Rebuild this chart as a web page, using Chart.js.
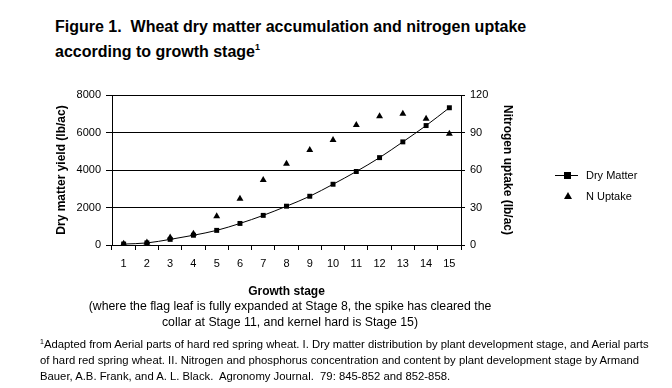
<!DOCTYPE html>
<html lang="en">
<head>
    <meta charset="UTF-8">
    <title>Wheat dry matter and nitrogen uptake</title>
    <script src="https://cdn.jsdelivr.net/npm/chart.js"></script>
    <style>
        body {
            margin: 0;
            width: 672px;
            height: 388px;
            background: white;
            font-family: Arial, "Liberation Sans", sans-serif;
            position: relative;
            overflow: hidden;
        }
        #chartBox {
            position: absolute;
            left: 0;
            top: 0;
            width: 672px;
            height: 388px;
        }
        .title {
            position: absolute;
            left: 55px;
            top: 14px;
            font-size: 16px;
            font-weight: bold;
            line-height: 25px;
        }
        .title sup {
            font-size: 9px;
            vertical-align: 7px;
            line-height: 0;
        }
        .subnote {
            position: absolute;
            left: 60px;
            width: 460px;
            top: 298px;
            text-align: center;
            font-size: 12.3px;
            line-height: 16px;
        }
        .footnote {
            position: absolute;
            left: 40px;
            top: 336px;
            font-size: 11.3px;
            line-height: 16px;
            white-space: nowrap;
        }
        .footnote sup {
            font-size: 7px;
            vertical-align: 4px;
            line-height: 0;
        }
        .legend {
            position: absolute;
            left: 555px;
            top: 167px;
            font-size: 11px;
        }
        .legend div {
            height: 21px;
            position: relative;
            padding-left: 31px;
            line-height: 16px;
        }
        .lineMark {
            position: absolute;
            left: 0;
            top: 8px;
            width: 23px;
            height: 1px;
            background: black;
        }
        .squareMark {
            position: absolute;
            left: 9px;
            top: 5px;
            width: 7px;
            height: 7px;
            background: black;
        }
        .triMark {
            position: absolute;
            left: 9px;
            top: 4px;
            width: 0;
            height: 0;
            border-left: 4px solid transparent;
            border-right: 4px solid transparent;
            border-bottom: 7px solid black;
        }
    </style>
</head>
<body>
    <div class="title">Figure 1.&nbsp; Wheat dry matter accumulation and nitrogen uptake<br>according to growth stage<sup>1</sup></div>
    <div id="chartBox"><canvas id="wheatChart"></canvas></div>
    <div class="subnote">(where the flag leaf is fully expanded at Stage 8, the spike has cleared the<br>collar at Stage 11, and kernel hard is Stage 15)</div>
    <div class="legend">
        <div><span class="lineMark"></span><span class="squareMark"></span>Dry Matter</div>
        <div><span class="triMark"></span>N Uptake</div>
    </div>
    <div class="footnote"><sup>1</sup>Adapted from Aerial parts of hard red spring wheat. I. Dry matter distribution by plant development stage, and Aerial parts<br>of hard red spring wheat. II. Nitrogen and phosphorus concentration and content by plant development stage by Armand<br>Bauer, A.B. Frank, and A. L. Black.&nbsp; Agronomy Journal.&nbsp; 79: 845-852 and 852-858.</div>

    <script>
        // values
        const stages = ['1', '2', '3', '4', '5', '6', '7', '8', '9', '10', '11', '12', '13', '14', '15'];
        const dryMatter = [50, 110, 300, 520, 780, 1150, 1580, 2070, 2600, 3240, 3920, 4660, 5500, 6370, 7320];
        const nUptake = [1, 2, 6, 9, 23, 37, 52, 65, 76, 84, 96, 103, 105, 101, 89];
        const leftTicks = [0, 2000, 4000, 6000, 8000];
        const rightTicks = [0, 30, 60, 90, 120];

        const tickFont = { family: 'Arial, "Liberation Sans", sans-serif', size: 11 };
        const titleFont = { family: 'Arial, "Liberation Sans", sans-serif', size: 12, weight: 'bold' };
        const plain = v => String(v);

        const ctx = document.getElementById('wheatChart').getContext('2d');
        new Chart(ctx, {
            type: 'line',
            data: {
                labels: stages,
                datasets: [{
                    label: 'Dry Matter',
                    data: dryMatter,
                    yAxisID: 'y',
                    borderColor: 'black',
                    backgroundColor: 'black',
                    borderWidth: 1,
                    pointStyle: 'rect',
                    pointRadius: 3.5,
                    pointBorderWidth: 0,
                    cubicInterpolationMode: 'monotone'
                }, {
                    label: 'N Uptake',
                    data: nUptake,
                    yAxisID: 'y2',
                    showLine: false,
                    borderColor: 'black',
                    backgroundColor: 'black',
                    pointStyle: 'triangle',
                    pointRadius: 4,
                    pointBorderWidth: 0
                }]
            },
            options: {
                responsive: true,
                maintainAspectRatio: false,
                animation: false,
                events: [],
                layout: {
                    padding: { left: 50, right: 153, top: 95, bottom: 85 }
                },
                plugins: {
                    legend: { display: false },
                    tooltip: { enabled: false }
                },
                scales: {
                    x: {
                        offset: true,
                        grid: {
                            offset: true,
                            drawOnChartArea: false,
                            color: 'black',
                            tickLength: 5
                        },
                        border: { color: 'black' },
                        ticks: { color: 'black', font: tickFont, padding: 7, maxRotation: 0 },
                        title: { display: true, text: 'Growth stage', color: 'black', font: titleFont, padding: { top: 8 } },
                        afterFit: function (scale) { scale.height = 58; }
                    },
                    y: {
                        position: 'left',
                        min: 0,
                        max: 8000,
                        afterBuildTicks: function (scale) { scale.ticks = leftTicks.map(v => ({ value: v })); },
                        grid: { color: 'black', tickLength: 6 },
                        border: { color: 'black' },
                        ticks: { color: 'black', font: tickFont, padding: 5, callback: plain },
                        title: { display: true, text: 'Dry matter yield (lb/ac)', color: 'black', font: titleFont, padding: 4 },
                        afterFit: function (scale) { scale.width = 62; }
                    },
                    y2: {
                        position: 'right',
                        min: 0,
                        max: 120,
                        afterBuildTicks: function (scale) { scale.ticks = rightTicks.map(v => ({ value: v })); },
                        grid: { drawOnChartArea: false, color: 'black', tickLength: 4 },
                        border: { color: 'black' },
                        ticks: { color: 'black', font: tickFont, padding: 5, callback: plain },
                        title: { display: true, text: 'Nitrogen uptake (lb/ac)', color: 'black', font: titleFont, padding: 4 },
                        afterFit: function (scale) { scale.width = 58; }
                    }
                }
            }
        });
    </script>
</body>
</html>
